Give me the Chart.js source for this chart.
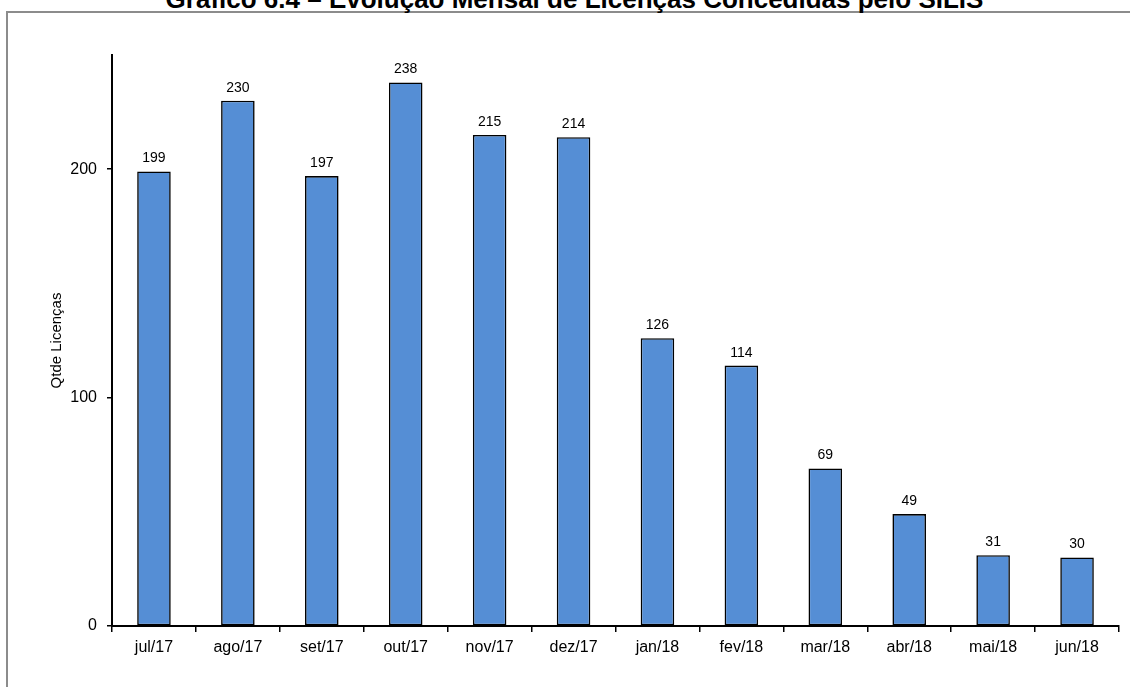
<!DOCTYPE html>
<html>
<head>
<meta charset="utf-8">
<script src="https://cdn.jsdelivr.net/npm/chart.js@4"></script>
<style>
  html, body { margin: 0; padding: 0; background: #fff; }
  body { width: 1130px; height: 687px; position: relative; overflow: hidden; font-family: "Liberation Sans", Arial, sans-serif; }
  #title { position: absolute; left: 0; width: 1149px; top: -14px; line-height: 26px; text-align: center; font-weight: bold; font-size: 26px; color: #000; white-space: nowrap; }
  #frame { position: absolute; left: 6px; top: 11px; width: 1140px; height: 700px; border-left: 2px solid #8c8c8c; border-top: 2px solid #8c8c8c; box-sizing: border-box; }
  #wrap { position: absolute; left: 0; top: 0; width: 1130px; height: 687px; }
</style>
</head>
<body>
<div id="frame"></div>
<div id="title">Gráfico 6.4 – Evolução Mensal de Licenças Concedidas pelo SILIS</div>
<div id="wrap"><canvas id="c"></canvas></div>
<script>
const categories = ["jul/17", "ago/17", "set/17", "out/17", "nov/17", "dez/17", "jan/18", "fev/18", "mar/18", "abr/18", "mai/18", "jun/18"];
const licencas = [199, 230, 197, 238, 215, 214, 126, 114, 69, 49, 31, 30];
const yTicks = [0, 100, 200];
const yAxisTitle = "Qtde Licenças";

const FONT = '"Liberation Sans", Arial, sans-serif';

const valueLabels = {
  id: 'valueLabels',
  afterDatasetsDraw(chart) {
    const ctx = chart.ctx;
    const meta = chart.getDatasetMeta(0);
    ctx.save();
    ctx.font = '14px ' + FONT;
    ctx.fillStyle = '#000';
    ctx.textAlign = 'center';
    ctx.textBaseline = 'alphabetic';
    meta.data.forEach((bar, i) => {
      ctx.fillText(String(chart.data.datasets[0].data[i]), bar.x, bar.y - 9);
    });
    ctx.restore();
  }
};

new Chart(document.getElementById('c'), {
  type: 'bar',
  data: {
    labels: categories,
    datasets: [{
      data: licencas,
      backgroundColor: '#558ED5',
      borderColor: '#000',
      borderWidth: 1.6,
      borderSkipped: false,
      categoryPercentage: 1,
      barPercentage: 0.4
    }]
  },
  options: {
    responsive: true,
    maintainAspectRatio: false,
    animation: false,
    devicePixelRatio: 1,
    layout: { padding: { left: 0, right: 11, top: 55, bottom: 0 } },
    plugins: { legend: { display: false }, tooltip: { enabled: false }, title: { display: false } },
    scales: {
      x: {
        offset: true,
        grid: { display: true, drawOnChartArea: false, offset: true, tickLength: 6, color: '#000', lineWidth: 1.5 },
        border: { display: true, color: '#000', width: 2 },
        ticks: { color: '#000', font: { family: FONT, size: 16 }, padding: 6, maxRotation: 0, autoSkip: false },
        afterFit(s) { s.height = 61; }
      },
      y: {
        min: 0,
        max: 250,
        grid: { display: true, drawOnChartArea: false, tickLength: 5, color: '#000', lineWidth: 1.5 },
        border: { display: true, color: '#000', width: 2 },
        ticks: { color: '#000', font: { family: FONT, size: 16 }, padding: 10, stepSize: 100 },
        afterBuildTicks(s) { s.ticks = yTicks.map(v => ({ value: v })); },
        title: { display: true, text: yAxisTitle, color: '#000', font: { family: FONT, size: 15 }, padding: { top: 48, bottom: 0 } },
        afterFit(s) { s.width = 112; }
      }
    }
  },
  plugins: [valueLabels]
});
</script>
</body>
</html>
